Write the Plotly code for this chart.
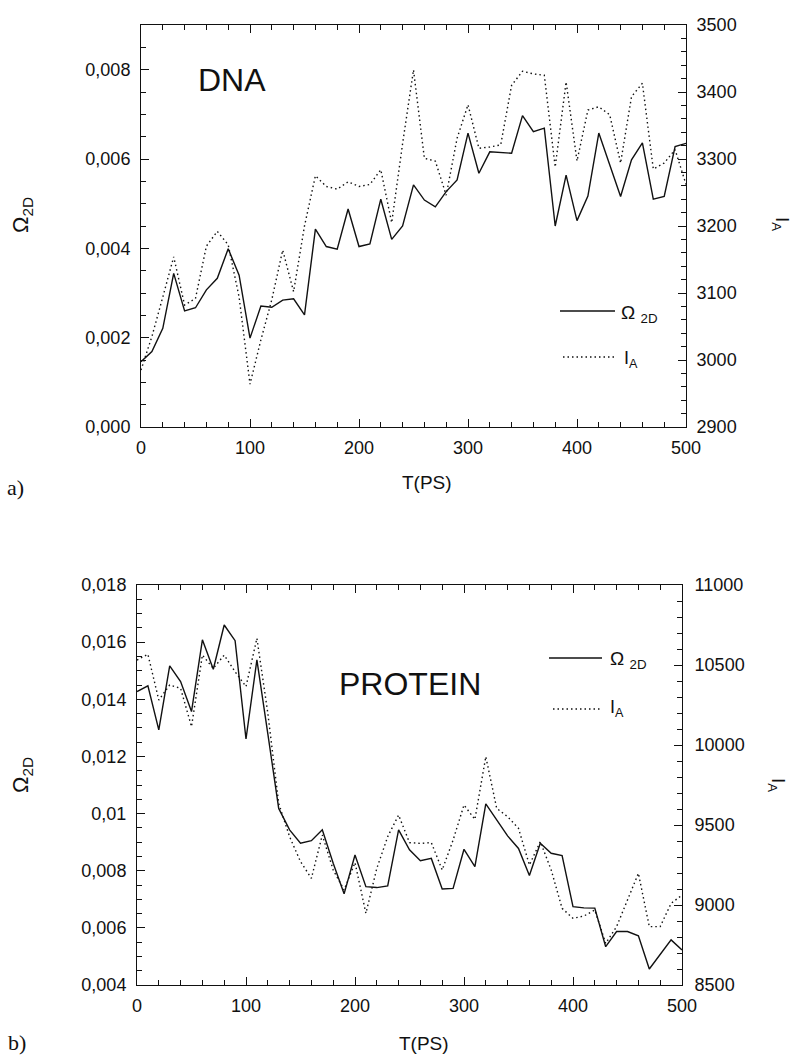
import plotly.graph_objects as go

# ---------------- data ----------------
t_ps = [0, 10, 20, 30, 40, 50, 60, 70, 80, 90, 100, 110, 120, 130, 140, 150, 160, 170, 180, 190,
        200, 210, 220, 230, 240, 250, 260, 270, 280, 290, 300, 310, 320, 330, 340, 350, 360, 370,
        380, 390, 400, 410, 420, 430, 440, 450, 460, 470, 480, 490, 500]

dna_omega = [0.00146, 0.00169, 0.00221, 0.00344, 0.00260, 0.00267, 0.00307, 0.00333, 0.00399, 0.00340,
             0.00199, 0.00271, 0.00268, 0.00284, 0.00287, 0.00251, 0.00443, 0.00404, 0.00398, 0.00488,
             0.00404, 0.00410, 0.00510, 0.00420, 0.00450, 0.00542, 0.00508, 0.00493, 0.00527, 0.00553,
             0.00658, 0.00568, 0.00616, 0.00614, 0.00613, 0.00697, 0.00661, 0.00669, 0.00450, 0.00564,
             0.00462, 0.00517, 0.00658, 0.00587, 0.00516, 0.00598, 0.00636, 0.00510, 0.00516, 0.00628,
             0.00635]

dna_ia = [2985, 3035, 3094, 3154, 3082, 3092, 3170, 3192, 3172, 3094,
          2964, 3030, 3090, 3164, 3102, 3200, 3275, 3259, 3255, 3266,
          3259, 3262, 3284, 3205, 3323, 3433, 3301, 3297, 3246, 3331,
          3381, 3316, 3318, 3321, 3410, 3431, 3427, 3425, 3288, 3415,
          3297, 3373, 3378, 3366, 3294, 3393, 3413, 3285, 3294, 3314,
          3262]

prot_omega = [0.01427, 0.01447, 0.01293, 0.01517, 0.01462, 0.01357, 0.01608, 0.01505, 0.01660, 0.01605,
              0.01261, 0.01538, 0.01280, 0.01018, 0.00943, 0.00896, 0.00905, 0.00943, 0.00826, 0.00719,
              0.00855, 0.00744, 0.00741, 0.00747, 0.00943, 0.00873, 0.00835, 0.00843, 0.00736, 0.00738,
              0.00875, 0.00814, 0.01034, 0.00980, 0.00922, 0.00878, 0.00783, 0.00896, 0.00861, 0.00853,
              0.00674, 0.00670, 0.00669, 0.00534, 0.00587, 0.00587, 0.00572, 0.00456, 0.00507, 0.00558,
              0.00523]

prot_ia = [10531, 10567, 10281, 10375, 10354, 10115, 10562, 10479, 10562, 10458,
           10365, 10667, 10200, 9635, 9427, 9271, 9167, 9437, 9219, 9094,
           9265, 8948, 9229, 9427, 9562, 9390, 9385, 9390, 9219, 9406,
           9625, 9535, 9927, 9604, 9552, 9479, 9250, 9396, 9219, 8979,
           8917, 8931, 8969, 8760, 8865, 9031, 9198, 8865, 8865, 9010,
           9062]

x_tickvals = [0, 100, 200, 300, 400, 500]
x_ticktext = ["0", "100", "200", "300", "400", "500"]

dna_left_vals = [0.000, 0.002, 0.004, 0.006, 0.008]
dna_left_text = ["0,000", "0,002", "0,004", "0,006", "0,008"]
dna_right_vals = [2900, 3000, 3100, 3200, 3300, 3400, 3500]
dna_right_text = ["2900", "3000", "3100", "3200", "3300", "3400", "3500"]

prot_left_vals = [0.004, 0.006, 0.008, 0.010, 0.012, 0.014, 0.016, 0.018]
prot_left_text = ["0,004", "0,006", "0,008", "0,01", "0,012", "0,014", "0,016", "0,018"]
prot_right_vals = [8500, 9000, 9500, 10000, 10500, 11000]
prot_right_text = ["8500", "9000", "9500", "10000", "10500", "11000"]

# ---------------- layout helpers ----------------
W, H = 795, 1055
FONT = "Liberation Sans, Arial, Helvetica, sans-serif"
SERIF = "Liberation Serif, Times New Roman, serif"
INK = "#111111"


def px_x(p):
    return p / W


def px_y(p):
    return 1 - p / H


tick_font = dict(family=FONT, size=18, color=INK)

fig = go.Figure()

solid = dict(color=INK, width=1.4)
dotted = dict(color=INK, width=1.4, dash="1.5px,3px")

fig.add_trace(go.Scatter(x=t_ps, y=dna_omega, mode="lines", line=solid, xaxis="x", yaxis="y",
                         showlegend=False))
fig.add_trace(go.Scatter(x=t_ps, y=dna_ia, mode="lines", line=dotted, xaxis="x", yaxis="y2",
                         showlegend=False))
fig.add_trace(go.Scatter(x=t_ps, y=prot_omega, mode="lines", line=solid, xaxis="x2", yaxis="y3",
                         showlegend=False))
fig.add_trace(go.Scatter(x=t_ps, y=prot_ia, mode="lines", line=dotted, xaxis="x2", yaxis="y4",
                         showlegend=False))

common_axis = dict(showline=True, linecolor=INK, linewidth=1, ticks="inside", ticklen=8,
                   tickwidth=1, tickcolor=INK, showgrid=False, zeroline=False,
                   tickfont=tick_font, automargin=False, tickmode="array")

top_dom = [px_y(427), px_y(25)]
bot_dom = [px_y(985), px_y(585)]

fig.update_layout(
    width=W, height=H,
    margin=dict(l=0, r=0, t=0, b=0),
    paper_bgcolor="white", plot_bgcolor="white",
    showlegend=False,
    xaxis=dict(common_axis, domain=[px_x(141), px_x(686)], anchor="y", range=[0, 500],
               tickvals=x_tickvals, ticktext=x_ticktext, mirror="ticks", ticklabelstandoff=4,
               minor=dict(ticks="inside", ticklen=5, tickcolor=INK, tickmode="linear", tick0=0, dtick=20)),
    yaxis=dict(common_axis, domain=top_dom, anchor="x", range=[0, 0.009],
               tickvals=dna_left_vals, ticktext=dna_left_text, ticklabelstandoff=6,
               minor=dict(ticks="inside", ticklen=5, tickcolor=INK, tickmode="linear", tick0=0, dtick=0.0005)),
    yaxis2=dict(common_axis, overlaying="y", side="right", anchor="x", range=[2900, 3500],
                tickvals=dna_right_vals, ticktext=dna_right_text, ticklabelstandoff=6,
                minor=dict(ticks="inside", ticklen=5, tickcolor=INK, tickmode="linear", tick0=2900, dtick=20)),
    xaxis2=dict(common_axis, domain=[px_x(137), px_x(682)], anchor="y3", range=[0, 500],
                tickvals=x_tickvals, ticktext=x_ticktext, mirror="ticks", ticklabelstandoff=4,
                minor=dict(ticks="inside", ticklen=5, tickcolor=INK, tickmode="linear", tick0=0, dtick=20)),
    yaxis3=dict(common_axis, domain=bot_dom, anchor="x2", range=[0.004, 0.018],
                tickvals=prot_left_vals, ticktext=prot_left_text, ticklabelstandoff=6,
                minor=dict(ticks="inside", ticklen=5, tickcolor=INK, tickmode="linear", tick0=0.004, dtick=0.0005)),
    yaxis4=dict(common_axis, overlaying="y3", side="right", anchor="x2", range=[8500, 11000],
                tickvals=prot_right_vals, ticktext=prot_right_text, ticklabelstandoff=8,
                minor=dict(ticks="inside", ticklen=5, tickcolor=INK, tickmode="linear", tick0=8500, dtick=100)),
)


def ann(text, x, y, size, xanchor="center", yanchor="middle", family=FONT, angle=0):
    fig.add_annotation(text=text, x=px_x(x), y=px_y(y), xref="paper", yref="paper",
                       showarrow=False, xanchor=xanchor, yanchor=yanchor, textangle=angle,
                       font=dict(family=family, size=size, color=INK))


# panel texts and axis titles
ann("DNA", 232, 80, 32)
ann("PROTEIN", 410, 684, 32)
ann("T(PS)", 427, 483, 19)
ann("T(PS)", 424, 1043, 19)
ann("a)", 15, 487, 22, family=SERIF)
ann("b)", 17, 1042, 22, family=SERIF)
ann("Ω<sub>2D</sub>", 22, 215, 22, angle=-90)
ann("Ω<sub>2D</sub>", 22, 775, 22, angle=-90)
ann("I<sub>A</sub>", 781, 224, 19, angle=90)
ann("I<sub>A</sub>", 777, 785, 19, angle=90)


# legends (sample lines + labels)
def legend_line(x0, x1, y, dash):
    fig.add_shape(type="line", xref="paper", yref="paper", x0=px_x(x0), x1=px_x(x1),
                  y0=px_y(y), y1=px_y(y), line=dict(color=INK, width=1.4, dash=dash))


legend_line(560, 615, 311, "solid")
legend_line(563, 615, 357, "1.5px,3px")
ann("Ω <sub>2D</sub>", 619, 314, 19, xanchor="left")
ann("I<sub>A</sub>", 622, 360, 18, xanchor="left")

legend_line(549, 602, 658, "solid")
legend_line(553, 602, 709, "1.5px,3px")
ann("Ω <sub>2D</sub>", 608, 660, 19, xanchor="left")
ann("I<sub>A</sub>", 608, 708, 18, xanchor="left")

fig.write_html("out.html")
